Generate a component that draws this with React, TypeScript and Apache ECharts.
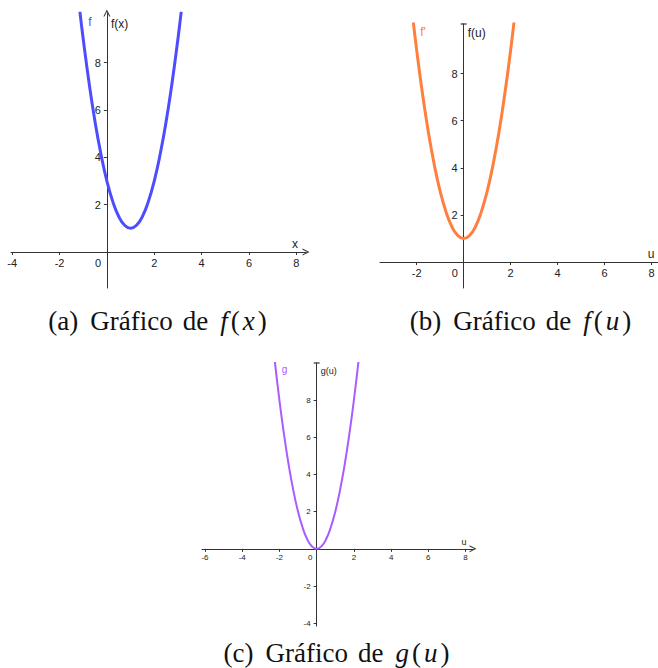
import { useEffect, useRef } from 'react';
import * as echarts from 'echarts';

// (a) f(x)
const fxX = [-1.14, -1, -0.75, -0.5, -0.25, 0, 0.25, 0.5, 0.75, 1, 1.25, 1.5, 1.75, 2, 2.25, 2.5, 2.75, 3, 3.14];
const fxY = [10.16, 9, 7.13, 5.5, 4.13, 3, 2.13, 1.5, 1.13, 1, 1.13, 1.5, 2.13, 3, 4.13, 5.5, 7.13, 9, 10.16];
// (b) f(u)
const fuX = [-2.17, -2, -1.75, -1.5, -1.25, -1, -0.75, -0.5, -0.25, 0, 0.25, 0.5, 0.75, 1, 1.25, 1.5, 1.75, 2, 2.17];
const fuY = [10.42, 9, 7.13, 5.5, 4.13, 3, 2.13, 1.5, 1.13, 1, 1.13, 1.5, 2.13, 3, 4.13, 5.5, 7.13, 9, 10.42];
// (c) g(u)
const guX = [-2.26, -2, -1.75, -1.5, -1.25, -1, -0.75, -0.5, -0.25, 0, 0.25, 0.5, 0.75, 1, 1.25, 1.5, 1.75, 2, 2.26];
const guY = [10.2, 8, 6.13, 4.5, 3.13, 2, 1.13, 0.5, 0.13, 0, 0.13, 0.5, 1.13, 2, 3.13, 4.5, 6.13, 8, 10.2];

const ticksXa = [-4, -2, 0, 2, 4, 6, 8];
const ticksYa = [2, 4, 6, 8];
const ticksXb = [-2, 0, 2, 4, 6, 8];
const ticksYb = [2, 4, 6, 8];
const ticksXc = [-6, -4, -2, 0, 2, 4, 6, 8];
const ticksYc = [-4, -2, 2, 4, 6, 8];

const captions = [
  { tag: '(a)', fn: 'f', arg: 'x' },
  { tag: '(b)', fn: 'f', arg: 'u' },
  { tag: '(c)', fn: 'g', arg: 'u' },
];

const AXIS = '#333333';
const ARROW = 'path://M0,10 L5,0 L10,10 L8.4,10 L5,3.2 L1.6,10 Z';
const BAR = 'path://M0,0 L10,0 L10,2 L0,2 Z';
const SERIF = '"Liberation Serif", "Times New Roman", serif';

type Panel = { left: number; top: number; width: number; height: number; xmin: number; xmax: number; ymin: number; ymax: number };
const panels: Panel[] = [
  { left: 11, top: 13, width: 295, height: 275, xmin: -4.05, xmax: 8.41, ymin: -1.52, ymax: 10.1 },
  { left: 380, top: 24, width: 278, height: 264, xmin: -3.56, xmax: 8.27, ymin: -1.1, ymax: 10.1 },
  { left: 202, top: 363, width: 271, height: 263, xmin: -6.16, xmax: 8.4, ymin: -4.15, ymax: 10.0 },
];

function zip(xs: number[], ys: number[]) {
  return xs.map((x, i) => [x, ys[i]]);
}

function xAxisFor(grid: number, ticks: number[], fs: number, name: string, gap: number, nfs: number, symbol: string) {
  const p = panels[grid];
  const offset = -((0 - p.ymin) / (p.ymax - p.ymin)) * p.height;
  return {
    type: 'value',
    gridIndex: grid,
    min: p.xmin,
    max: p.xmax,
    position: 'bottom',
    offset,
    name,
    nameLocation: 'end',
    nameGap: gap,
    nameTextStyle: { align: 'center', verticalAlign: 'bottom', fontSize: nfs, color: '#222', fontFamily: 'Liberation Sans', padding: [0, 0, 2, 0] },
    splitLine: { show: false },
    axisLine: {
      onZero: false,
      symbol: ['none', symbol],
      symbolSize: [7, 7],
      lineStyle: { color: AXIS, width: 1 },
    },
    axisTick: { show: true, length: 3, customValues: ticks.filter((v) => v !== 0), lineStyle: { color: AXIS } },
    axisLabel: {
      customValues: ticks,
      margin: 5,
      fontSize: fs,
      color: '#222',
      fontFamily: 'Liberation Sans',
      formatter: (v: number) => (v === 0 ? '{z|0}' : String(v)),
      rich: { z: { fontSize: fs, color: '#222', fontFamily: 'Liberation Sans', padding: [0, fs * 1.6, 0, 0] } },
    },
  };
}

function yAxisFor(grid: number, ticks: number[], fs: number, name: string, gap: number, nfs: number, symbol: string) {
  const p = panels[grid];
  const offset = -((0 - p.xmin) / (p.xmax - p.xmin)) * p.width;
  return {
    type: 'value',
    gridIndex: grid,
    min: p.ymin,
    max: p.ymax,
    position: 'left',
    offset,
    name,
    nameLocation: 'end',
    nameGap: gap,
    nameTextStyle: { align: 'left', verticalAlign: 'top', fontSize: nfs, color: '#222', fontFamily: 'Liberation Sans', padding: [0, 0, 0, 4] },
    splitLine: { show: false },
    axisLine: {
      onZero: false,
      symbol: ['none', symbol],
      symbolSize: symbol === BAR ? [6, 1.2] : [7, 7],
      lineStyle: { color: AXIS, width: 1 },
    },
    axisTick: { show: true, length: 3, customValues: ticks, lineStyle: { color: AXIS } },
    axisLabel: { customValues: ticks, margin: 6, fontSize: fs, color: '#222', fontFamily: 'Liberation Sans' },
  };
}

function curve(grid: number, data: number[][], color: string, width: number, lbl: string, at: number[], fs: number) {
  return {
    type: 'line',
    xAxisIndex: grid,
    yAxisIndex: grid,
    data,
    smooth: true,
    showSymbol: false,
    clip: true,
    lineStyle: { color, width },
    itemStyle: { color },
    markPoint: {
      symbol: 'circle',
      symbolSize: 0,
      silent: true,
      data: [
        {
          coord: at,
          label: { show: true, position: 'inside', formatter: lbl, color, fontSize: fs, fontFamily: 'Liberation Sans' },
        },
      ],
    },
  };
}

export default function App() {
  const ref = useRef<HTMLDivElement>(null);
  useEffect(() => {
    if (!ref.current) return;
    const chart = echarts.init(ref.current, null, { renderer: 'svg' });
    const FS = 27;
    const capRich = {
      n: { fontFamily: SERIF, fontSize: FS, color: '#111' },
      p: { fontFamily: SERIF, fontSize: FS, color: '#111', padding: [0, 1, 0, 1] },
      i: { fontFamily: SERIF, fontSize: FS, fontStyle: 'italic', color: '#111', padding: [0, 2, 0, 2] },
      g1: { fontFamily: SERIF, fontSize: FS, width: 12 },
      g: { fontFamily: SERIF, fontSize: FS, width: 10 },
    };
    const capText = (c: { tag: string; fn: string; arg: string }) =>
      `{n|${c.tag}}{g1| }{n|Gráfico}{g| }{n|de}{g| }{i|${c.fn}}{p|(}{i|${c.arg}}{p|)}`;
    const capPos = [
      [158, 321],
      [521, 321],
      [337, 653],
    ];
    chart.setOption({
      animation: false,
      backgroundColor: '#ffffff',
      grid: panels.map((p) => ({ left: p.left, top: p.top, width: p.width, height: p.height, containLabel: false, outerBoundsMode: 'none' })),
      xAxis: [
        xAxisFor(0, ticksXa, 11, 'x', -11, 12, ARROW),
        xAxisFor(1, ticksXb, 11, 'u', -7, 12, 'none'),
        xAxisFor(2, ticksXc, 8, 'u', -9, 9, ARROW),
      ],
      yAxis: [
        yAxisFor(0, ticksYa, 11, 'f(x)', -5, 12, ARROW),
        yAxisFor(1, ticksYb, 11, 'f(u)', -3, 12, BAR),
        yAxisFor(2, ticksYc, 8, 'g(u)', -3, 9, BAR),
      ],
      series: [
        curve(0, zip(fxX, fxY), '#4d4dff', 3, 'f', [-0.72, 9.72], 12),
        curve(1, zip(fuX, fuY), '#ff7f3f', 3, "f'", [-1.73, 9.77], 12),
        curve(2, zip(guX, guY), '#a95cff', 2, 'g', [-1.72, 9.64], 10),
      ],
      graphic: captions.map((c, i) => ({
        type: 'text',
        x: capPos[i][0],
        y: capPos[i][1],
        style: {
          text: capText(c),
          rich: capRich,
          fontFamily: SERIF,
          fontSize: FS,
          fill: '#111',
          align: 'center',
          verticalAlign: 'middle',
        },
      })),
    });
    return () => chart.dispose();
  }, []);
  return <div ref={ref} style={{ position: 'fixed', left: 0, top: 0, width: 658, height: 668 }} />;
}
